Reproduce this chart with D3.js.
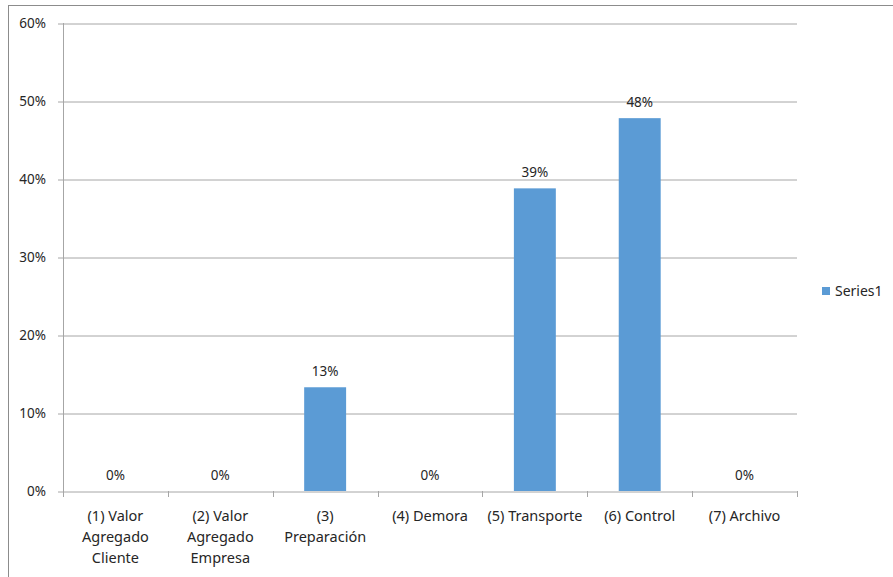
<!DOCTYPE html>
<html>
<head>
<meta charset="utf-8">
<script src="https://cdn.jsdelivr.net/npm/d3@7"></script>
<style>
  html, body { margin: 0; padding: 0; background: #fff; }
  svg { display: block; }
  text { font-family: "Noto Sans", "Open Sans", sans-serif; }
</style>
</head>
<body>
<svg id="chart" width="893" height="577"></svg>
<script>
// Activity categories (line breaks as shown on the axis)
const categories = [
  "(1) Valor\nAgregado\nCliente",
  "(2) Valor\nAgregado\nEmpresa",
  "(3)\nPreparación",
  "(4) Demora",
  "(5) Transporte",
  "(6) Control",
  "(7) Archivo"
];
// Share of each activity
const series1 = [0, 0, 0.133, 0, 0.388, 0.478, 0];
const seriesName = "Series1";
const yTicks = [0, 0.1, 0.2, 0.3, 0.4, 0.5, 0.6];

const svg = d3.select("#chart");
const W = 893, H = 577;
const plot = { left: 63, right: 797, top: 23, bottom: 491 };

// Chart frame
svg.append("rect")
  .attr("x", 8.5).attr("y", 5.5)
  .attr("width", W).attr("height", H)
  .attr("fill", "#fff").attr("stroke", "#8c8c8c").attr("stroke-width", 1);

const x = d3.scaleBand()
  .domain(categories)
  .range([plot.left, plot.right])
  .paddingInner(0.6).paddingOuter(0.3);
const xCat = d3.scaleBand().domain(categories).range([plot.left, plot.right]);
const y = d3.scaleLinear().domain([0, 0.6]).range([plot.bottom, plot.top]);

const fmt = d3.format(".0%");

// Gridlines + y axis
const yAxis = d3.axisLeft(y)
  .tickValues(yTicks)
  .tickFormat(fmt)
  .tickSize(-(plot.right - plot.left) - 5)
  .tickPadding(10);
const gy = svg.append("g")
  .attr("transform", `translate(${plot.left - 5},0)`)
  .call(yAxis);
gy.select(".domain").remove();
gy.selectAll(".tick line")
  .attr("stroke", "#a6a6a6").attr("stroke-width", 1)
  .attr("transform", "translate(0,0.5)");
gy.selectAll(".tick text")
  .attr("fill", "#262626").attr("font-size", 13.5)
  .attr("x", -12);

// Vertical axis line
svg.append("line")
  .attr("x1", plot.left + 0.5).attr("x2", plot.left + 0.5)
  .attr("y1", plot.top).attr("y2", plot.bottom + 1)
  .attr("stroke", "#a6a6a6");

// Category boundary tick marks
const bounds = categories.map(c => xCat(c)).concat([plot.right]);
svg.selectAll("line.ctick").data(bounds).enter().append("line")
  .attr("class", "ctick")
  .attr("x1", d => Math.round(d) + 0.5).attr("x2", d => Math.round(d) + 0.5)
  .attr("y1", plot.bottom).attr("y2", plot.bottom + 6)
  .attr("stroke", "#a6a6a6");

// Bars
svg.selectAll("rect.bar").data(series1).enter().append("rect")
  .attr("class", "bar")
  .attr("x", (d, i) => x(categories[i]))
  .attr("width", x.bandwidth())
  .attr("y", d => y(d))
  .attr("height", d => y(0) - y(d))
  .attr("fill", "#5b9bd5");

// Data labels
svg.selectAll("text.dl").data(series1).enter().append("text")
  .attr("class", "dl")
  .attr("x", (d, i) => x(categories[i]) + x.bandwidth() / 2)
  .attr("y", d => y(d) - 11)
  .attr("text-anchor", "middle")
  .attr("font-size", 13.5)
  .attr("fill", "#262626")
  .text(d => fmt(d));

// Category labels
const cl = svg.selectAll("text.cat").data(categories).enter().append("text")
  .attr("class", "cat")
  .attr("text-anchor", "middle")
  .attr("font-size", 14.5)
  .attr("fill", "#262626")
  .attr("transform", d => `translate(${xCat(d) + xCat.bandwidth() / 2},${plot.bottom + 30})`);
cl.selectAll("tspan").data(d => d.split("\n")).enter().append("tspan")
  .attr("x", 0)
  .attr("y", (d, i) => i * 21)
  .text(d => d);

// Legend
const lg = svg.append("g").attr("transform", "translate(822,287)");
lg.append("rect").attr("width", 8).attr("height", 8).attr("fill", "#5b9bd5");
lg.append("text").attr("x", 13).attr("y", 8.5)
  .attr("font-size", 14).attr("fill", "#262626")
  .text(seriesName);
</script>
</body>
</html>
